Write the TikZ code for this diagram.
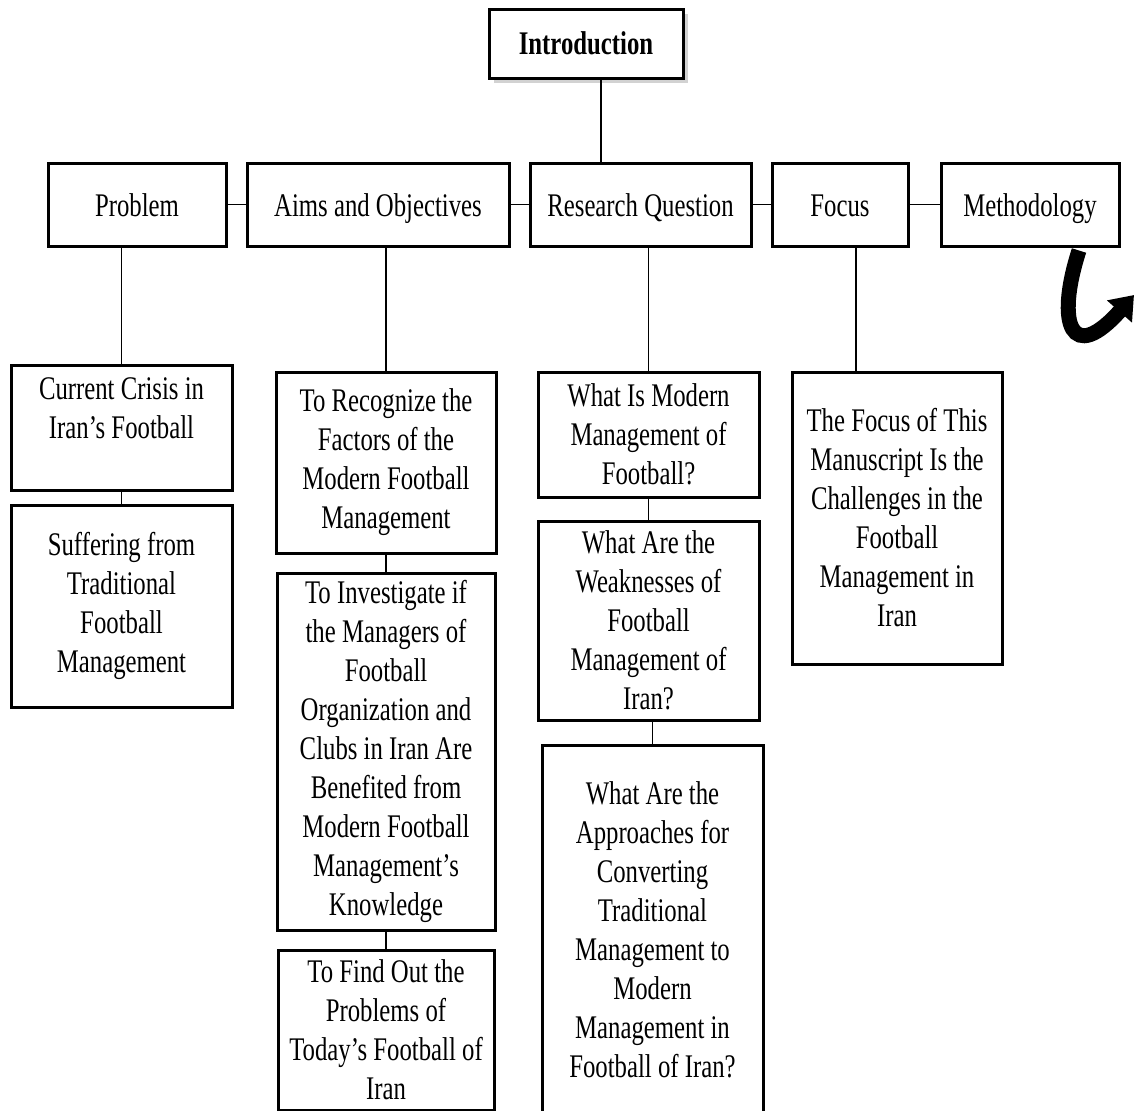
\documentclass[tikz,border=0pt]{standalone}
\usepackage{fontspec}
\setmainfont{Liberation Serif}[FakeStretch=0.75]
\usepackage{tikz}
\usetikzlibrary{arrows.meta,positioning,shadows}

\begin{document}
\begin{tikzpicture}[
   x=0.5pt, y=-0.5pt,
   box/.style={draw,line width=1.5pt,align=center,inner sep=2pt,
               font=\fontsize{16.5}{19.5}\selectfont},
   head/.style={box,minimum height=41.5pt,text height=15.5pt,text depth=3.5pt},
   link/.style={line width=0.8pt},
   curl/.style={line width=7.5pt,-{Triangle[length=11pt,width=16pt]}}
  ]
  \clip (0,0) rectangle (1134,1110);
  \fill[white] (0,0) rectangle (1134,1110);

  % top
  \node[box,font=\fontsize{16.5}{19.5}\selectfont\bfseries,minimum width=97pt,minimum height=34.5pt,
        fill=white,drop shadow={shadow xshift=2.5pt,shadow yshift=-2.5pt,opacity=.35}]
        (intro) at (586,43.5) {Introduction};

  % headings row
  \node[head,minimum width=89pt]  (prob) at (137,204.5) {Problem};
  \node[head,minimum width=131pt,right=9pt of prob] (aims) {Aims and Objectives};
  \node[head,minimum width=110.5pt,right=9pt of aims] (rq) {Research Question};
  \node[head,minimum width=68pt,right=9pt of rq]   (foc) {Focus};
  \node[head,minimum width=89pt,right=15pt of foc]  (meth) {Methodology};

  % problem column
  \node[box,minimum width=110.5pt,minimum height=62.5pt] (crisis) at (121.5,427.5)
        {Current Crisis in\\Iran’s Football\\\mbox{}};
  \node[box,minimum width=110.5pt,minimum height=101pt,below=6pt of crisis] (suffer)
        {Suffering from\\Traditional\\Football\\Management};

  % aims column
  \node[box,minimum width=110pt,minimum height=90.5pt] (recog) at (386,462.5)
        {To Recognize the\\Factors of the\\Modern Football\\Management};
  \node[box,minimum width=109pt,minimum height=178.5pt,below=8.5pt of recog] (invest)
        {To Investigate if\\the Managers of\\Football\\Organization and\\Clubs in Iran Are\\Benefited from\\Modern Football\\Management’s\\Knowledge};
  \node[box,minimum width=108pt,minimum height=80pt,below=8.5pt of invest] (find)
        {To Find Out the\\Problems of\\Today’s Football of\\Iran};

  % research question column
  \node[box,minimum width=110.5pt,minimum height=62.5pt] (whatis) at (648.5,434.5)
        {What Is Modern\\Management of\\Football?};
  \node[box,minimum width=110.5pt,minimum height=99.5pt,below=10.5pt of whatis] (weak)
        {What Are the\\Weaknesses of\\Football\\Management of\\Iran?};
  \node[box,minimum width=110.5pt,minimum height=185pt,below=11pt of weak,xshift=2pt] (appr)
        {What Are the\\Approaches for\\Converting\\Traditional\\Management to\\Modern\\Management in\\Football of Iran?};

  % focus column
  \node[box,minimum width=105pt,minimum height=146pt] (fbox) at (897,518)
        {The Focus of This\\Manuscript Is the\\Challenges in the\\Football\\Management in\\Iran};

  \coordinate (curltip) at (1134,295);

  % links
  \draw[link] ([xshift=7.5pt]intro.south) -- ([xshift=7.5pt]intro.south |- rq.north);
  \draw[link] (prob) -- (aims);
  \draw[link] (aims) -- (rq);
  \draw[link] (rq)   -- (foc);
  \draw[link] (foc)  -- (meth);

  \draw[link] (crisis.north |- prob.south) -- (crisis.north);
  \draw[link] (crisis) -- (suffer);
  \draw[link] (recog.north |- aims.south) -- (recog.north);
  \draw[link] (recog) -- (invest);
  \draw[link] (invest) -- (find);
  \draw[link] (whatis.north |- rq.south) -- (whatis.north);
  \draw[link] (whatis) -- (weak);
  \draw[link] (weak.south -| appr.north) -- (appr.north);
  \draw[link] ([xshift=8pt]foc.south) -- ([xshift=8pt]foc.south |- fbox.north);

  \draw[curl] ([xshift=24.5pt,yshift=-1.5pt]meth.south) .. controls (1055,325) and (1072,365) .. (curltip);
\end{tikzpicture}
\end{document}
